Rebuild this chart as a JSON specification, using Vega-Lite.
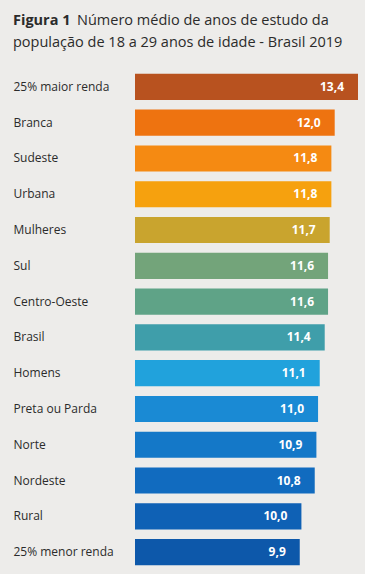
{
  "$schema": "https://vega.github.io/schema/vega-lite/v6.json",
  "background": "#EDECEA",
  "padding": {"left": 13, "top": 12, "right": 7, "bottom": 4},
  "width": 223,
  "height": 501,
  "config": {
    "view": {"stroke": null},
    "font": "Open Sans",
    "locale": {"number": {"decimal": ",", "thousands": ".", "grouping": [3], "currency": ["R$", ""]}}
  },
  "title": {
    "text": "Figura 1",
    "subtitle": ["\u200b\u00a0\u00a0\u00a0\u00a0\u00a0\u00a0\u00a0\u00a0\u00a0\u00a0\u00a0\u00a0\u00a0\u00a0\u00a0\u00a0\u00a0Número médio de anos de estudo da", "população de 18 a 29 anos de idade - Brasil 2019"],
    "anchor": "start",
    "frame": "bounds",
    "font": "Open Sans",
    "fontSize": 14.5,
    "fontWeight": "bold",
    "color": "#2b2b2b",
    "subtitleFont": "Open Sans",
    "subtitleFontSize": 14.5,
    "subtitleFontWeight": "normal",
    "subtitleColor": "#2b2b2b",
    "subtitleLineHeight": 22,
    "subtitlePadding": -14.5,
    "offset": 19
  },
  "data": {
    "values": [
      {"categoria": "25% maior renda", "anos": 13.4},
      {"categoria": "Branca", "anos": 12.0},
      {"categoria": "Sudeste", "anos": 11.8},
      {"categoria": "Urbana", "anos": 11.8},
      {"categoria": "Mulheres", "anos": 11.7},
      {"categoria": "Sul", "anos": 11.6},
      {"categoria": "Centro-Oeste", "anos": 11.6},
      {"categoria": "Brasil", "anos": 11.4},
      {"categoria": "Homens", "anos": 11.1},
      {"categoria": "Preta ou Parda", "anos": 11.0},
      {"categoria": "Norte", "anos": 10.9},
      {"categoria": "Nordeste", "anos": 10.8},
      {"categoria": "Rural", "anos": 10.0},
      {"categoria": "25% menor renda", "anos": 9.9}
    ]
  },
  "encoding": {
    "y": {
      "field": "categoria",
      "type": "nominal",
      "sort": null,
      "scale": {"paddingInner": 0.27, "paddingOuter": 0.135},
      "axis": {
        "title": null,
        "domain": false,
        "ticks": false,
        "labelAlign": "left",
        "labelPadding": 122,
        "labelFontSize": 12,
        "labelColor": "#2b2b2b",
        "labelFont": "Open Sans"
      }
    },
    "x": {
      "field": "anos",
      "type": "quantitative",
      "scale": {"domain": [0, 13.4], "nice": false},
      "axis": null
    }
  },
  "layer": [
    {
      "mark": {"type": "bar"},
      "encoding": {
        "color": {
          "field": "categoria",
          "type": "nominal",
          "legend": null,
          "scale": {
            "domain": ["25% maior renda", "Branca", "Sudeste", "Urbana", "Mulheres", "Sul", "Centro-Oeste", "Brasil", "Homens", "Preta ou Parda", "Norte", "Nordeste", "Rural", "25% menor renda"],
            "range": ["#B8521F", "#EE7310", "#F58A12", "#F6A10E", "#C9A42E", "#73A47A", "#5FA387", "#3F9EAA", "#21A2DC", "#1A8AD4", "#1478C8", "#116BBF", "#0F61B5", "#0D58AA"]
          }
        }
      }
    },
    {
      "mark": {"type": "text", "align": "right", "dx": -14, "color": "white", "fontWeight": "bold", "fontSize": 12, "font": "Open Sans"},
      "encoding": {
        "text": {"field": "anos", "type": "quantitative", "format": ".1f"}
      }
    }
  ]
}
